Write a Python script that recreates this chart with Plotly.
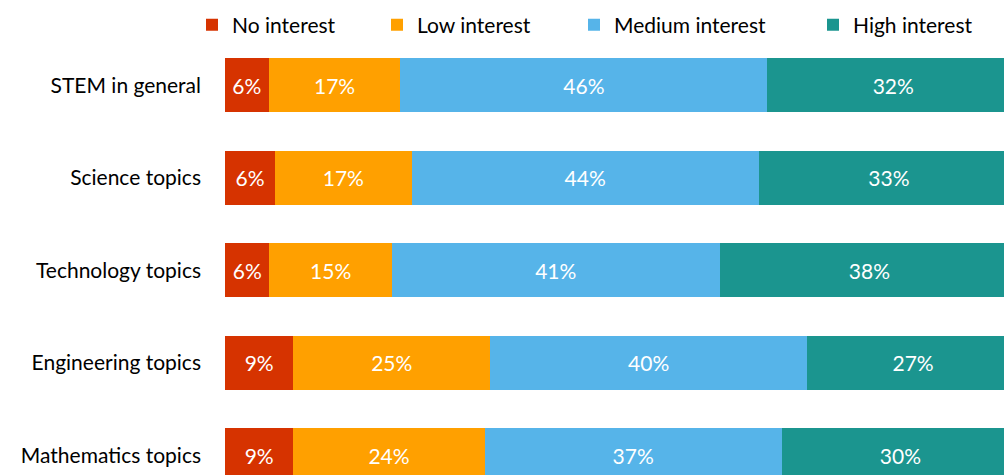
import plotly.graph_objects as go

categories = ["STEM in general", "Science topics", "Technology topics",
              "Engineering topics", "Mathematics topics"]
series_names = ["No interest", "Low interest", "Medium interest", "High interest"]
no_interest = [5.5, 6.3, 5.6, 8.6, 8.6]
low_interest = [16.6, 17.2, 15.4, 24.8, 24.1]
medium_interest = [46.2, 43.7, 41.3, 39.9, 37.4]
high_interest = [31.7, 32.8, 37.7, 26.7, 29.9]
series_values = [no_interest, low_interest, medium_interest, high_interest]
colors = ["#D63300", "#FFA000", "#56B4E9", "#1B958F"]

FONT = "Lato"
W, H = 1004, 475
ML, MT = 225, 40
plot_w = W - ML
plot_h = H - MT

# legend text start positions (px) in reference
legend_text_px = [232, 417, 614, 853]
legend_ids = ["legend", "legend2", "legend3", "legend4"]

fig = go.Figure()
for name, vals, col, lid in zip(series_names, series_values, colors, legend_ids):
    fig.add_trace(go.Bar(
        y=categories, x=vals, name=name, orientation="h",
        marker=dict(color=col, line=dict(width=0)),
        texttemplate="%{x:.0f}%", textposition="inside",
        insidetextanchor="middle", constraintext="none",
        textfont=dict(color="white", size=21, family=FONT),
        legend=lid, hoverinfo="name+x",
    ))

layout_legends = {}
for lid, tx in zip(legend_ids, legend_text_px):
    layout_legends[lid] = dict(
        x=(tx - 40 - ML) / plot_w, xanchor="left",
        y=(H - 25) / plot_h, yanchor="middle",
        orientation="h", bgcolor="rgba(0,0,0,0)", borderwidth=0,
        font=dict(family=FONT, size=21, color="#000000"),
    )

fig.update_layout(
    width=W, height=H,
    margin=dict(l=ML, r=0, t=MT, b=0, pad=0, autoexpand=False),
    barmode="stack", bargap=0.416,
    plot_bgcolor="white", paper_bgcolor="white",
    font=dict(family=FONT, size=21, color="#000000"),
    showlegend=True,
    xaxis=dict(visible=False, range=[0, 98.1], fixedrange=True),
    yaxis=dict(type="category", categoryorder="array", categoryarray=categories,
               range=[4.213, -0.492], showgrid=False, showline=False,
               zeroline=False, ticks="", ticklabelstandoff=23,
               tickfont=dict(family=FONT, size=21, color="#000000")),
    **layout_legends,
)

fig.write_html(
    "out.html",
    config={"displayModeBar": False},
    post_script="document.body.style.margin='0';document.body.style.overflow='hidden';",
)
